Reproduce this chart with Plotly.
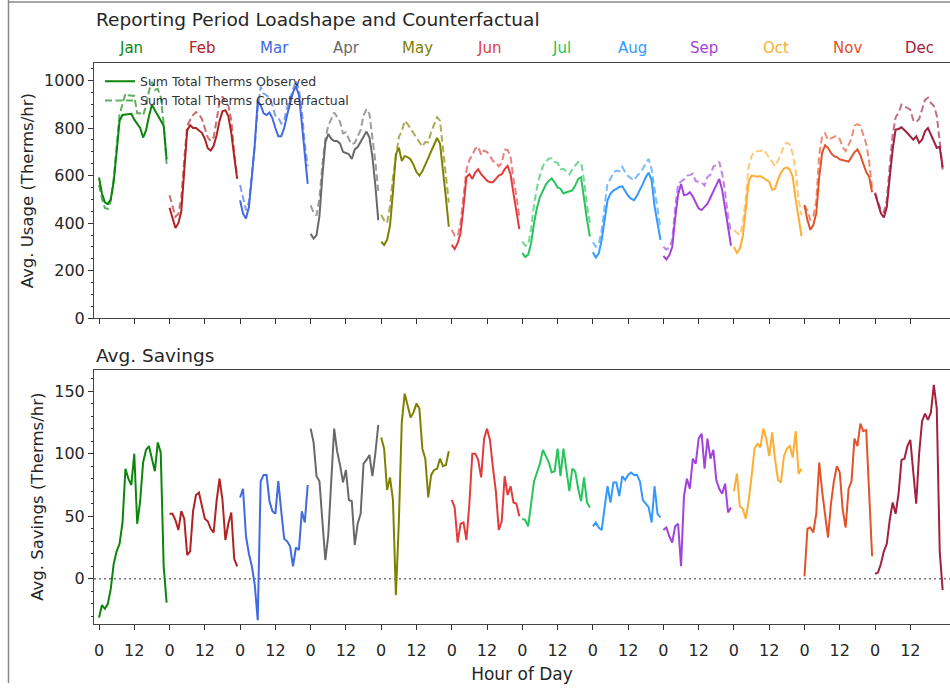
import plotly.graph_objects as go

# ---------------- data ----------------
months = ["Jan", "Feb", "Mar", "Apr", "May", "Jun",
          "Jul", "Aug", "Sep", "Oct", "Nov", "Dec"]
month_colors = ["#0b850b", "#b22222", "#4169e1", "#696969", "#808000", "#e33b3b",
                "#27c45c", "#3399ff", "#a243dc", "#ffad33", "#e2532a", "#a3213f"]
hours = list(range(24))
hour_tick_labels = ["0", "12"]

obs_jan = [592, 525, 488, 480, 500, 575, 700, 830, 855, 857, 858, 860, 835, 818, 800, 760, 790, 850, 898, 875, 855, 830, 810, 668]
cf_jan = [561, 504, 464, 460, 492, 587, 722, 858, 900, 945, 938, 935, 935, 862, 862, 853, 893, 956, 994, 961, 964, 931, 820, 649]
sav_jan = [-31, -21, -24, -20, -8, 12, 22, 28, 45, 88, 80, 75, 100, 44, 62, 93, 103, 106, 96, 86, 109, 101, 10, -19]

obs_feb = [465, 420, 380, 400, 450, 620, 790, 812, 800, 800, 790, 780, 755, 715, 705, 725, 770, 830, 870, 875, 850, 780, 680, 586]
cf_feb = [517, 472, 427, 439, 504, 668, 809, 834, 854, 867, 859, 838, 803, 761, 745, 762, 832, 910, 933, 906, 894, 833, 696, 596]
sav_feb = [52, 52, 47, 39, 54, 48, 19, 22, 54, 67, 69, 58, 48, 46, 40, 37, 62, 80, 63, 31, 44, 53, 16, 10]

obs_mar = [496, 440, 420, 468, 593, 731, 915, 896, 862, 855, 865, 841, 800, 765, 765, 800, 855, 900, 950, 975, 940, 820, 690, 565]
cf_mar = [561, 512, 454, 488, 603, 726, 882, 974, 945, 938, 927, 895, 852, 843, 819, 832, 885, 926, 960, 1000, 963, 874, 735, 640]
sav_mar = [65, 72, 34, 20, 10, -5, -33, 78, 83, 83, 62, 54, 52, 78, 54, 32, 30, 26, 10, 25, 23, 54, 45, 75]

obs_apr = [355, 335, 350, 430, 600, 740, 775, 755, 745, 745, 735, 700, 695, 690, 670, 710, 720, 740, 760, 785, 760, 680, 560, 413]
cf_apr = [475, 444, 432, 508, 646, 755, 810, 836, 865, 847, 826, 777, 782, 753, 732, 737, 764, 792, 852, 880, 859, 762, 660, 536]
sav_apr = [120, 109, 82, 78, 46, 15, 35, 81, 120, 102, 91, 77, 87, 63, 62, 27, 44, 52, 92, 95, 99, 82, 100, 123]

obs_may = [322, 308, 330, 390, 530, 690, 717, 662, 682, 678, 668, 645, 615, 600, 618, 645, 675, 700, 725, 758, 735, 635, 510, 385]
cf_may = [435, 412, 401, 471, 593, 677, 762, 787, 830, 816, 797, 778, 755, 736, 722, 741, 740, 783, 812, 846, 831, 725, 601, 487]
sav_may = [113, 104, 71, 81, 63, -13, 45, 125, 148, 138, 129, 133, 140, 136, 104, 96, 65, 83, 87, 88, 96, 90, 91, 102]

obs_jun = [309, 291, 316, 358, 468, 593, 606, 586, 613, 627, 606, 593, 579, 572, 572, 586, 600, 606, 627, 641, 606, 524, 455, 375]
cf_jun = [372, 348, 345, 402, 513, 624, 666, 686, 713, 722, 687, 705, 699, 683, 661, 656, 639, 652, 709, 708, 680, 585, 515, 425]
sav_jun = [63, 57, 29, 44, 45, 31, 60, 100, 100, 95, 81, 112, 120, 111, 89, 70, 39, 46, 82, 67, 74, 61, 60, 50]

obs_jul = [275, 258, 268, 316, 400, 465, 510, 537, 562, 578, 588, 572, 550, 545, 525, 530, 535, 538, 558, 586, 593, 500, 415, 344]
cf_jul = [323, 305, 310, 376, 478, 550, 602, 640, 660, 671, 673, 658, 654, 627, 629, 615, 605, 626, 644, 658, 655, 581, 476, 401]
sav_jul = [48, 47, 42, 60, 78, 85, 92, 103, 98, 93, 85, 86, 104, 82, 104, 85, 70, 88, 86, 72, 62, 81, 61, 57]

obs_aug = [278, 256, 272, 330, 413, 496, 524, 537, 544, 552, 555, 535, 515, 503, 497, 515, 537, 565, 593, 613, 580, 470, 400, 330]
cf_aug = [320, 301, 313, 369, 470, 570, 585, 614, 621, 618, 637, 614, 598, 588, 580, 598, 615, 628, 653, 670, 625, 544, 452, 379]
sav_aug = [42, 45, 41, 39, 57, 74, 61, 77, 77, 66, 82, 79, 83, 85, 83, 83, 78, 63, 60, 57, 45, 74, 52, 49]

obs_sep = [262, 248, 265, 300, 420, 520, 565, 518, 520, 530, 512, 485, 462, 455, 470, 482, 508, 535, 565, 586, 540, 455, 375, 305]
cf_sep = [301, 289, 299, 329, 462, 564, 575, 584, 600, 602, 608, 577, 574, 571, 558, 594, 604, 638, 644, 658, 608, 531, 428, 362]
sav_sep = [39, 41, 34, 29, 42, 44, 10, 66, 80, 72, 96, 92, 112, 116, 88, 112, 96, 103, 79, 72, 68, 76, 53, 57]

obs_oct = [300, 275, 292, 345, 455, 575, 600, 598, 595, 598, 590, 580, 575, 540, 545, 585, 612, 630, 635, 625, 595, 500, 415, 345]
cf_oct = [370, 359, 350, 401, 503, 637, 682, 702, 703, 703, 710, 692, 673, 657, 640, 664, 689, 728, 739, 731, 692, 618, 499, 433]
sav_oct = [70, 84, 58, 56, 48, 62, 82, 104, 108, 105, 120, 112, 98, 117, 95, 79, 77, 98, 104, 106, 97, 118, 84, 88]

obs_nov = [475, 413, 372, 392, 441, 593, 696, 728, 717, 695, 682, 678, 668, 664, 662, 659, 678, 698, 710, 686, 650, 615, 595, 530]
cf_nov = [477, 453, 413, 429, 493, 686, 766, 778, 750, 755, 760, 768, 753, 719, 703, 731, 756, 810, 816, 810, 768, 734, 659, 548]
sav_nov = [2, 40, 41, 37, 52, 93, 70, 50, 33, 60, 78, 90, 85, 55, 41, 72, 78, 112, 106, 124, 118, 119, 64, 18]

obs_dec = [525, 482, 441, 424, 468, 593, 710, 793, 796, 803, 793, 779, 765, 751, 765, 738, 751, 786, 800, 772, 738, 717, 720, 634]
cf_dec = [529, 487, 453, 446, 496, 640, 771, 845, 864, 898, 889, 885, 876, 833, 825, 838, 877, 918, 927, 905, 893, 853, 742, 625]
sav_dec = [4, 5, 12, 22, 28, 47, 61, 52, 68, 95, 96, 106, 111, 82, 60, 100, 126, 132, 127, 133, 155, 136, 22, -9]

observed = [obs_jan, obs_feb, obs_mar, obs_apr, obs_may, obs_jun,
            obs_jul, obs_aug, obs_sep, obs_oct, obs_nov, obs_dec]
counterfactual = [cf_jan, cf_feb, cf_mar, cf_apr, cf_may, cf_jun,
                  cf_jul, cf_aug, cf_sep, cf_oct, cf_nov, cf_dec]
savings = [sav_jan, sav_feb, sav_mar, sav_apr, sav_may, sav_jun,
           sav_jul, sav_aug, sav_sep, sav_oct, sav_nov, sav_dec]

# ---------------- layout helpers ----------------
W, H = 950, 693
FONT = "DejaVu Sans"
TXT = "#262626"


def fx(p):
    return p / W


def fy(p):
    return 1 - p / H


fig = go.Figure()

for m, name in enumerate(months):
    xs = [m * 24 + h for h in hours]
    col = month_colors[m]
    fig.add_trace(go.Scatter(
        x=xs, y=observed[m], mode="lines", xaxis="x", yaxis="y",
        line=dict(color=col, width=2),
        name="Sum Total Therms Observed", legendgroup="obs",
        showlegend=(m == 0), legendrank=1))
    fig.add_trace(go.Scatter(
        x=xs, y=counterfactual[m], mode="lines", xaxis="x", yaxis="y",
        line=dict(color=col, width=2, dash="7px,3.5px"), opacity=0.65,
        name="Sum Total Therms Counterfactual", legendgroup="cf",
        showlegend=(m == 0), legendrank=2))
    fig.add_trace(go.Scatter(
        x=xs, y=savings[m], mode="lines", xaxis="x2", yaxis="y2",
        line=dict(color=col, width=2), showlegend=False,
        name=name + " savings"))

tick_pos = [m * 24 + h for m in range(12) for h in (0, 12)]
tick_txt = [hour_tick_labels[i % 2] for i in range(len(tick_pos))]

x_common = dict(
    range=[-1.7, 289.5], domain=[fx(94), 1],
    tickmode="array", tickvals=tick_pos, ticktext=tick_txt,
    ticks="outside", ticklen=5, tickwidth=1, tickcolor="#333",
    showline=True, linecolor="#444", linewidth=1, mirror=True,
    showgrid=False, zeroline=False,
    tickfont=dict(family=FONT, size=16, color=TXT),
)

y_common = dict(
    ticks="outside", ticklen=5, tickwidth=1, tickcolor="#333",
    showline=True, linecolor="#444", linewidth=1, mirror=False,
    showgrid=False, zeroline=False,
    tickfont=dict(family=FONT, size=16, color=TXT),
)

fig.update_layout(
    width=W, height=H, autosize=False,
    margin=dict(l=0, r=0, t=0, b=0),
    paper_bgcolor="white", plot_bgcolor="white",
    font=dict(family=FONT, color=TXT),
    xaxis=dict(x_common, anchor="y", showticklabels=False),
    yaxis=dict(y_common, domain=[fy(323), fy(64)], range=[0, 1073],
               tickvals=[0, 200, 400, 600, 800, 1000],
               minor=dict(dtick=50, ticks="outside", ticklen=2.5, tickcolor="#333", showgrid=False),
               title=dict(text="Avg. Usage (Therms/hr)", standoff=6,
                          font=dict(family=FONT, size=16.5, color=TXT))),
    xaxis2=dict(x_common, anchor="y2", showticklabels=True, ticklabelstandoff=7,
                title=dict(text="Hour of Day", standoff=9,
                           font=dict(family=FONT, size=17, color=TXT))),
    yaxis2=dict(y_common, domain=[fy(633), fy(375)], range=[-36, 167.2],
                tickvals=[0, 50, 100, 150],
                minor=dict(dtick=10, ticks="outside", ticklen=2.5, tickcolor="#333", showgrid=False),
                title=dict(text="Avg. Savings (Therms/hr)", standoff=6,
                           font=dict(family=FONT, size=16.5, color=TXT))),
    legend=dict(x=fx(100), y=fy(67.5), xanchor="left", yanchor="top",
                bgcolor="rgba(0,0,0,0)", borderwidth=0, itemwidth=30,
                font=dict(family=FONT, size=12.5, color="#333"),
                tracegroupgap=0),
    showlegend=True,
)

# zero reference line in the savings panel
fig.add_shape(type="line", xref="x2 domain", yref="y2", x0=0, x1=1, y0=0, y1=0,
              line=dict(color="#777", width=1.5, dash="2px,3px"), layer="below")

# panel titles
fig.add_annotation(text="Reporting Period Loadshape and Counterfactual",
                   xref="paper", yref="paper", x=fx(94), y=fy(19.5),
                   xanchor="left", yanchor="middle", showarrow=False,
                   font=dict(family=FONT, size=18.5, color=TXT))
fig.add_annotation(text="Avg. Savings",
                   xref="paper", yref="paper", x=fx(94), y=fy(361),
                   xanchor="left", yanchor="middle", showarrow=False,
                   font=dict(family=FONT, size=18.5, color=TXT))

# month labels above the top panel
for i, name in enumerate(months):
    fig.add_annotation(text=name, xref="x", yref="paper",
                       x=10.9 + 24.38 * i, y=fy(48.5),
                       xanchor="center", yanchor="middle", showarrow=False,
                       font=dict(family=FONT, size=15, color=month_colors[i]))

# outer frame lines of the figure (left and top)
fig.add_shape(type="line", xref="paper", yref="paper", x0=fx(8.5), x1=fx(8.5), y0=0, y1=1,
              line=dict(color="#8a8a8a", width=1.5))
fig.add_shape(type="line", xref="paper", yref="paper", x0=fx(8.5), x1=1, y0=fy(2), y1=fy(2),
              line=dict(color="#8a8a8a", width=1.5))

fig.write_html("out.html")
